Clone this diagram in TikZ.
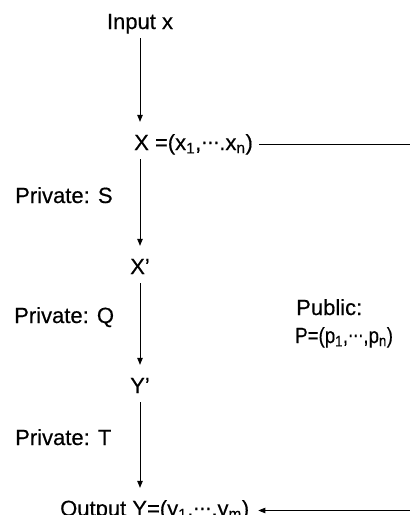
\documentclass[tikz,border=0pt]{standalone}
\usepackage{fontspec}
\setmainfont[FakeBold=0.4]{Liberation Sans}
\newfontfamily\dotsfont[FakeBold=0.6]{DejaVu Sans}
\usetikzlibrary{arrows.meta}
% compact midline ellipsis taken from DejaVu Sans
\newcommand\mdots{\raisebox{1.5pt}{\fontsize{18}{18}\dotsfont ⋯}}
\begin{document}
\begin{tikzpicture}[x=1pt,y=-1pt,
  lbl/.style={inner sep=0pt, text height=16pt, text depth=5pt,
              font=\fontsize{22}{28}\selectfont},
  flow/.style={draw=black, line width=0.7pt,
               -{Triangle[length=7pt,width=5.5pt]},
               shorten <=4pt, shorten >=12pt},
  link/.style={draw=black, line width=0.7pt}]
\clip (0,0) rectangle (410,515);
\useasboundingbox (0,0) rectangle (410,515);

% main column
\node[lbl, anchor=base] (inp) at (140,29) {Input x};
\node[lbl, anchor=base west] (xv) at (134,150)
  {X =(x\textsubscript{1},\mdots.x\textsubscript{n})};
\node[lbl, anchor=base] (xp) at (140,274) {X’};
\node[lbl, anchor=base] (yp) at (140,393) {Y’};
\node[lbl, anchor=base west] (out) at (60,516)
  {Output Y=(y\textsubscript{1},\mdots,y\textsubscript{m})};

% side labels
\node[lbl, anchor=base west] (ks) at (15,203) {Private: S};
\node[lbl, anchor=base west] (kq) at (14,323) {Private: Q};
\node[lbl, anchor=base west] (kt) at (15,445) {Private: T};
\node[lbl, anchor=base west] (pub) at (296,315) {Public:};
\node[lbl, anchor=base west] (pubp) at (295,343)
  {\scalebox{0.85}[1]{P=(p\textsubscript{1},\mdots,p\textsubscript{n})}};

% right edge ends of the public key path
\coordinate (edgeA) at (410,144.5);
\coordinate (edgeB) at (410,510.5);

% connectors
\draw[flow] (inp) -- (inp |- xv.north);
\draw[flow] (inp |- xv.south) -- (xp);
\draw[flow] (xp) -- (yp);
\draw[flow] (yp) -- (yp |- out.north);
\draw[link, shorten <=6pt] (xv.east) -- (edgeA);
\draw[link, -{Triangle[length=7pt,width=5.5pt]}, shorten >=9pt] (edgeB) -- (out.east);
\end{tikzpicture}
\end{document}
